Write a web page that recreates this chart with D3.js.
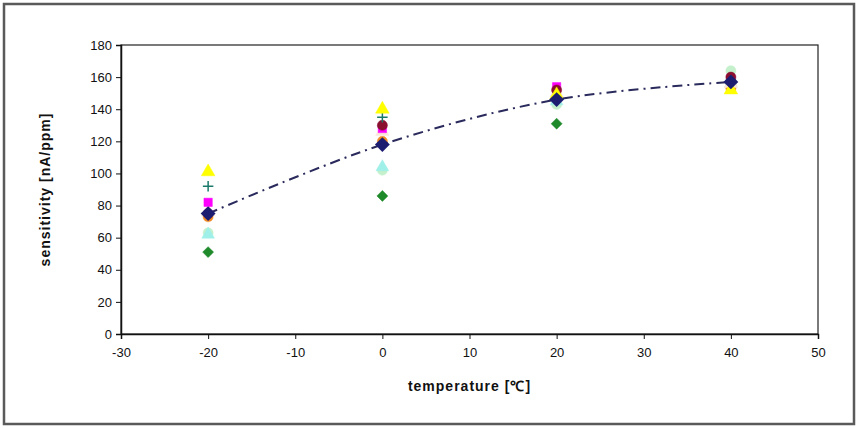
<!DOCTYPE html>
<html>
<head>
<meta charset="utf-8">
<script src="https://cdn.jsdelivr.net/npm/d3@7"></script>
<style>
  body { margin: 0; background: #fff; }
  svg { display: block; }
  text { font-family: "Liberation Sans", Arial, sans-serif; fill: #111; }
</style>
</head>
<body>
<div id="chart"></div>
<script>
// temperatures of the measurement runs
const temperatures = [-20, 0, 20, 40];

// sensitivity per sensor [nA/ppm]
const meanValues     = [75, 118, 146, 157];
const magentaSquare  = [82, 128, 154, 159];
const yellowTriangle = [101, 140, 149, 152];
const cyanTriangle   = [62, 104, 145, 156];
const maroonCircle   = [75, 130, 152, 160];
const tealCross      = [92, 135, 147, 158];
const orangeCircle   = [73, 120, 148, 153];
const paleGreen      = [63, 102, 143, 164];
const greenDiamond   = [51, 86, 131, 155];
const paleTriangle   = [76, 126, 150, 156];

const xTicks = [-30, -20, -10, 0, 10, 20, 30, 40, 50];
const yTicks = [0, 20, 40, 60, 80, 100, 120, 140, 160, 180];

// losange = carré tourné de 45°
const diamond = {
    draw(context, size) {
        const r = Math.sqrt(size / 2);
        context.moveTo(0, -r);
        context.lineTo(r, 0);
        context.lineTo(0, r);
        context.lineTo(-r, 0);
        context.closePath();
    }
};
// croix fine "+"
const plus = {
    draw(context, size) {
        const r = Math.sqrt(size) / 2;
        context.moveTo(-r, 0);
        context.lineTo(r, 0);
        context.moveTo(0, -r);
        context.lineTo(0, r);
    }
};

const series = [
    { values: greenDiamond,   symbol: diamond,           color: '#1f8a2a', size: 60 },
    { values: paleGreen,      symbol: d3.symbolCircle,   color: '#c4f0cc', size: 80 },
    { values: cyanTriangle,   symbol: d3.symbolTriangle, color: '#9ff0e8', size: 70 },
    { values: orangeCircle,   symbol: d3.symbolCircle,   color: '#f08a24', size: 80 },
    { values: paleTriangle,   symbol: d3.symbolTriangle, color: '#fbe8d8', size: 80 },
    { values: magentaSquare,  symbol: d3.symbolSquare,   color: '#ff00ff', size: 70 },
    { values: maroonCircle,   symbol: d3.symbolCircle,   color: '#8b1030', size: 80 },
    { values: tealCross,      symbol: plus,              color: '#1a7a6a', size: 110, cross: true },
    { values: yellowTriangle, symbol: d3.symbolTriangle, color: '#ffff00', size: 80 }
];

const width = 858, height = 428;
const margin = { left: 121, right: 40, top: 45, bottom: 94 };

const svg = d3.select('#chart').append('svg')
    .attr('width', width)
    .attr('height', height);

// cadre extérieur
svg.append('rect')
    .attr('x', 4).attr('y', 4)
    .attr('width', width - 8).attr('height', height - 8)
    .attr('fill', '#fff')
    .attr('stroke', '#5a5a5a')
    .attr('stroke-width', 2.5);

const x = d3.scaleLinear().domain([-30, 50]).range([margin.left, width - margin.right]);
const y = d3.scaleLinear().domain([0, 180]).range([height - margin.bottom, margin.top]);

// zone du graphique
svg.append('rect')
    .attr('x', x(-30)).attr('y', y(180))
    .attr('width', x(50) - x(-30)).attr('height', y(0) - y(180))
    .attr('fill', '#fff')
    .attr('stroke', '#222')
    .attr('stroke-width', 1.2);

const xAxis = svg.append('g')
    .attr('transform', `translate(0,${y(0)})`)
    .call(d3.axisBottom(x).tickValues(xTicks).tickFormat(d => String(d)).tickSize(5).tickPadding(9));
const yAxis = svg.append('g')
    .attr('transform', `translate(${x(-30)},0)`)
    .call(d3.axisLeft(y).tickValues(yTicks).tickFormat(d => String(d)).tickSize(5).tickPadding(4));

[xAxis, yAxis].forEach(ax => {
    ax.select('.domain').attr('stroke', '#111').attr('stroke-width', 1.5);
    ax.selectAll('.tick line').attr('stroke', '#111');
    ax.selectAll('.tick text')
        .attr('font-size', 13)
        .attr('font-family', '"Liberation Sans", Arial, sans-serif')
        .attr('fill', '#111');
});

// titres des axes
svg.append('text')
    .attr('x', (x(-30) + x(50)) / 2)
    .attr('y', 391)
    .attr('text-anchor', 'middle')
    .attr('font-size', 14)
    .attr('font-weight', 'bold')
    .attr('letter-spacing', 1)
    .text('temperature [℃]');

svg.append('text')
    .attr('transform', `translate(50,${(y(0) + y(180)) / 2}) rotate(-90)`)
    .attr('text-anchor', 'middle')
    .attr('font-size', 14)
    .attr('font-weight', 'bold')
    .attr('letter-spacing', 1)
    .text('sensitivity [nA/ppm]');

// points des capteurs
series.forEach(s => {
    const sym = d3.symbol().type(s.symbol).size(s.size);
    svg.append('g').selectAll('path')
        .data(temperatures.map((t, i) => ({ t, v: s.values[i] })))
        .enter()
        .append('path')
        .attr('d', sym)
        .attr('transform', d => `translate(${x(d.t)},${y(d.v)})`)
        .attr('fill', s.cross ? 'none' : s.color)
        .attr('stroke', s.color)
        .attr('stroke-width', s.cross ? 1.5 : 0.5);
});

// courbe moyenne lissée
const meanData = temperatures.map((t, i) => ({ t, v: meanValues[i] }));
svg.append('path')
    .datum(meanData)
    .attr('d', d3.line().x(d => x(d.t)).y(d => y(d.v)).curve(d3.curveCatmullRom.alpha(0.5)))
    .attr('fill', 'none')
    .attr('stroke', '#2a2a5c')
    .attr('stroke-width', 2)
    .attr('stroke-dasharray', '10,5,2,5');

svg.append('g').selectAll('path')
    .data(meanData)
    .enter()
    .append('path')
    .attr('d', d3.symbol().type(diamond).size(110))
    .attr('transform', d => `translate(${x(d.t)},${y(d.v)})`)
    .attr('fill', '#1c1c70');
</script>
</body>
</html>
